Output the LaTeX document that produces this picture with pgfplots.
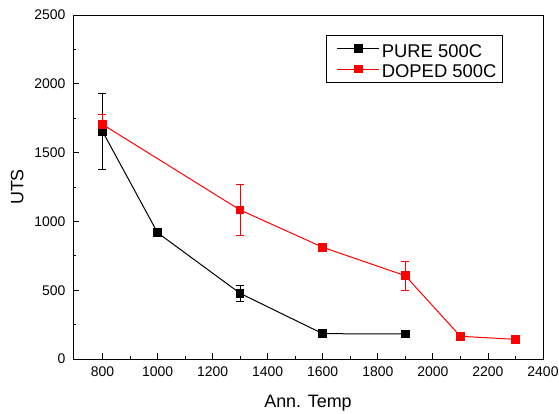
\documentclass[border=0pt]{standalone}
\usepackage{pgfplots}
\pgfplotsset{compat=1.18}
\usepackage{fontspec}
\setmainfont{Liberation Sans}
\begin{document}
\begin{tikzpicture}
\begin{axis}[
  scale only axis, width=470bp, height=344bp,
  xmin=693, xmax=2400, ymin=0, ymax=2500,
  xtick={800,1000,...,2400}, ytick={0,500,...,2500},
  minor x tick num=1, minor y tick num=1,
  tick align=inside, tick pos=left,
  major tick length=6bp, minor tick length=3.5bp,
  every tick/.style={black, line width=0.8bp},
  axis line style={line width=0.9bp},
  /pgf/number format/assume math mode=true,
  /pgf/number format/set thousands separator={},
  ticklabel style={font=\fontsize{14}{16}\selectfont},
  xticklabel style={yshift=-4bp},
  yticklabel style={xshift=-4bp},
  xlabel={Ann. Temp}, ylabel={UTS},
  label style={font=\fontsize{18}{20}\selectfont},
  xlabel style={yshift=-12bp},
  ylabel style={yshift=4bp},
  legend cell align=left,
  legend style={at={(rel axis cs:0.538,0.942)}, anchor=north west,
    font=\fontsize{18.5}{20}\selectfont, draw=black, line width=0.9bp,
    inner xsep=4bp, inner ysep=2.75bp, row sep=0bp,
    nodes={inner xsep=2bp, inner ysep=0.5bp, text height=18.45bp, text depth=1.15bp}},
  legend image code/.code={\path (-6.5bp,0bp); \draw[mark repeat=2,mark phase=2] plot coordinates {(0bp,0bp) (21bp,0bp) (42bp,0bp)};},
]
\addplot+[black, line width=1bp, mark=square*, mark size=3.8bp, mark options={solid, fill=black, draw=black},
  error bars/.cd, y dir=both, y explicit,
  error bar style={line width=0.9bp, black},
  error mark options={rotate=90, mark size=4bp, line width=0.9bp, black}]
  coordinates {
  (800,1655) +- (0,275)
  (1000,918) +- (0,0)
  (1300,477) +- (0,58)
  (1600,184) +- (0,0)
  (1900,182) +- (0,0)
  };
\addlegendentry{PURE 500C}
\addplot+[red, line width=1bp, mark=square*, mark size=3.8bp, mark options={solid, fill=red, draw=red},
  error bars/.cd, y dir=both, y explicit,
  error bar style={line width=0.9bp, red},
  error mark options={rotate=90, mark size=4bp, line width=0.9bp, red}]
  coordinates {
  (800,1705) +- (0,70)
  (1300,1083) +- (0,188)
  (1600,812) +- (0,0)
  (1900,605) +- (0,105)
  (2100,165) +- (0,0)
  (2300,143) +- (0,0)
  };
\addlegendentry{DOPED 500C}
\coordinate (sw) at (rel axis cs:0,0);
\coordinate (ne) at (rel axis cs:1,1);
\end{axis}
\pgfresetboundingbox
\path[use as bounding box] ([xshift=-73bp,yshift=-55bp]sw) rectangle ([xshift=16bp,yshift=15bp]ne);
\end{tikzpicture}
\end{document}
